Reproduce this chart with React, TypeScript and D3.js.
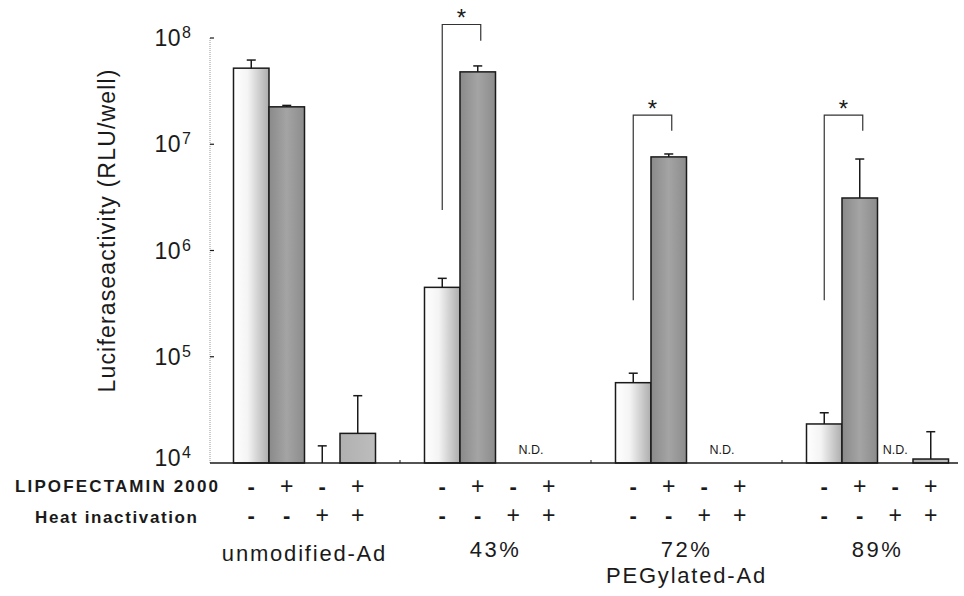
import * as d3 from 'd3'

// group / condition labels
const groups = ['unmodified-Ad', '43%', '72%', '89%']
const lipofectamin = ['-', '+', '-', '+']
const heatInactivation = ['-', '-', '+', '+']
const yTicks = [1e4, 1e5, 1e6, 1e7, 1e8]

// mean RLU/well per group (null = N.D.)
const meanUnmodified = [5.2e7, 2.25e7, 1.0e4, 1.9e4]
const mean43 = [4.5e5, 4.8e7, null, null]
const mean72 = [5.7e4, 7.6e6, null, null]
const mean89 = [2.33e4, 3.12e6, null, 1.09e4]
// upper error (SD)
const sdUnmodified = [1.0e7, 7e5, 4.5e3, 2.4e4]
const sd43 = [9.7e4, 6.6e6, null, null]
const sd72 = [1.3e4, 5e5, null, null]
const sd89 = [6.4e3, 4.14e6, null, 8.8e3]

// significance brackets (between slot 0 and slot 1)
const sigGroups = ['43%', '72%', '89%']
const sigTop = [1.34e8, 1.88e7, 1.88e7]
const sigLeftEnd = [2.4e6, 3.4e5, 3.4e5]
const sigRightEnd = [9.4e7, 1.34e7, 1.34e7]

const W = 964
const H = 596
const FONT = '"Liberation Sans", Arial, sans-serif'
const INK = '#1a1a1a'

const allMeans = [meanUnmodified, mean43, mean72, mean89]
const allSd = [sdUnmodified, sd43, sd72, sd89]
const slotFill = ['url(#fill-light)', 'url(#fill-dark)', 'url(#fill-mid)', 'url(#fill-mid)']

export default function App() {
  const x0 = d3.scaleBand<string>().domain(groups).range([209, 973])
  const x1 = d3.scaleBand<number>().domain([0, 1, 2, 3]).range([0, x0.bandwidth()])
    .paddingInner(0).paddingOuter(0.69)
  const y = d3.scaleLog().domain([1e4, 1e8]).range([463, 38])
  const bw = x1.bandwidth()
  const cx = (g: string, i: number) => (x0(g) ?? 0) + (x1(i) ?? 0) + bw / 2
  const base = y(1e4)

  const sign = (s: string, x: number, yy: number, key: string) => (
    <text key={key} x={x} y={yy} textAnchor="middle" fontSize={s === '-' ? 22 : 23}
      fontWeight={s === '-' ? 'bold' : 'normal'} fill={INK}>{s}</text>
  )

  return (
    <svg width={W} height={H} style={{ position: 'absolute', left: 0, top: 0, background: '#fff' }}
      fontFamily={FONT}>
      <defs>
        <linearGradient id="fill-light" x1="0" y1="0" x2="1" y2="0">
          <stop offset="0%" stopColor="#ffffff" />
          <stop offset="40%" stopColor="#f4f4f4" />
          <stop offset="100%" stopColor="#adadad" />
        </linearGradient>
        <linearGradient id="fill-dark" x1="0" y1="0" x2="1" y2="0">
          <stop offset="0%" stopColor="#8a8a8a" />
          <stop offset="50%" stopColor="#a4a4a4" />
          <stop offset="100%" stopColor="#8c8c8c" />
        </linearGradient>
        <linearGradient id="fill-mid" x1="0" y1="0" x2="1" y2="0">
          <stop offset="0%" stopColor="#b0b0b0" />
          <stop offset="100%" stopColor="#bdbdbd" />
        </linearGradient>
      </defs>

      {/* y axis */}
      <line x1={210} x2={210} y1={y(1e8)} y2={base} stroke="#999" strokeWidth={1} strokeDasharray="1,1" />
      {yTicks.map(t => {
        const ly = y(t) + (t === 1e4 ? 3 : 8)
        return (
          <g key={t}>
            {t > 1e4 && <line x1={210} x2={214} y1={y(t)} y2={y(t)} stroke={INK} strokeWidth={1.2} />}
            <text x={181} y={ly} textAnchor="end" fontSize={23} fill={INK} letterSpacing={0.5}>10</text>
            <text x={182} y={ly - 8} fontSize={16} fill={INK}>{Math.round(Math.log10(t))}</text>
          </g>
        )
      })}
      <text transform={`translate(115,231) rotate(-90)`} textAnchor="middle" fontSize={23} fill={INK}
        textLength={323} lengthAdjust="spacing">Luciferaseactivity (RLU/well)</text>

      {/* bars */}
      {groups.map((g, gi) => allMeans[gi].map((m, i) => {
        if (m == null) return null
        const top = y(m)
        const errTop = y(m + (allSd[gi][i] ?? 0))
        const left = cx(g, i) - bw / 2
        return (
          <g key={g + i}>
            {base - top > 0.5 && (
              <rect x={left} y={top} width={bw} height={base - top} fill={slotFill[i]}
                stroke={INK} strokeWidth={1.5} />
            )}
            <line x1={cx(g, i)} x2={cx(g, i)} y1={top} y2={errTop} stroke={INK} strokeWidth={1.5} />
            <line x1={cx(g, i) - 4.5} x2={cx(g, i) + 4.5} y1={errTop} y2={errTop} stroke={INK} strokeWidth={1.5} />
          </g>
        )
      }))}

      {/* N.D. labels */}
      {groups.map((g, gi) => {
        const nd = allMeans[gi].map((m, i) => (m == null ? i : -1)).filter(i => i >= 0)
        if (!nd.length) return null
        const mx = d3.mean(nd.map(i => cx(g, i))) ?? 0
        return <text key={g} x={mx} y={454} textAnchor="middle" fontSize={12.5} fill={INK}>N.D.</text>
      })}

      {/* x axis */}
      <line x1={210} x2={958} y1={base} y2={base} stroke={INK} strokeWidth={1.5} />
      {groups.slice(1).map(g => (
        <line key={g} x1={x0(g)} x2={x0(g)} y1={base} y2={base - 3} stroke={INK} strokeWidth={1} />
      ))}

      {/* significance brackets */}
      {sigGroups.map((g, k) => {
        const xl = cx(g, 0)
        const xr = cx(g, 1) + 3
        const yt = y(sigTop[k])
        return (
          <g key={g} stroke="#333" strokeWidth={1.2} fill="none">
            <path d={`M${xl},${y(sigLeftEnd[k])}V${yt}H${xr}V${y(sigRightEnd[k])}`} />
            <text x={(xl + xr) / 2} y={yt + 2} textAnchor="middle" fontSize={24} fill={INK} stroke="none">*</text>
          </g>
        )
      })}

      {/* condition rows */}
      <text x={15} y={492} fontSize={17} fontWeight="bold" fill={INK} textLength={203} lengthAdjust="spacing">LIPOFECTAMIN 2000</text>
      <text x={35} y={523} fontSize={17} fontWeight="bold" fill={INK} textLength={162} lengthAdjust="spacing">Heat inactivation</text>
      {groups.map(g => lipofectamin.map((s, i) => sign(s, cx(g, i), 494, g + 'l' + i)))}
      {groups.map(g => heatInactivation.map((s, i) => sign(s, cx(g, i), 523, g + 'h' + i)))}

      {/* group labels */}
      {groups.map((g, gi) => (
        <text key={g} x={(x0(g) ?? 0) + x0.bandwidth() / 2} y={gi === 0 ? 561 : 557} textAnchor="middle"
          fontSize={22} fill={INK} letterSpacing={gi === 0 ? 1.8 : 2.5}>{g}</text>
      ))}
      <text x={(x0('72%') ?? 0) + x0.bandwidth() / 2} y={583} textAnchor="middle" fontSize={22} fill={INK}
        letterSpacing={1.8}>PEGylated-Ad</text>
    </svg>
  )
}
